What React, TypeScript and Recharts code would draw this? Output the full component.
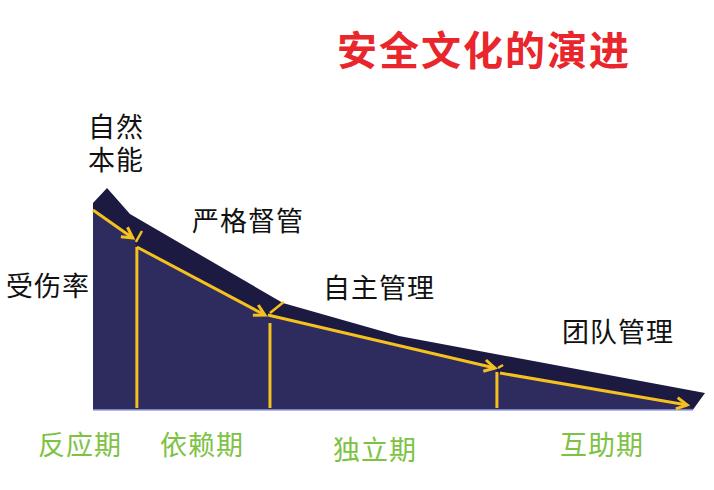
import React from "react";
import { Area, ComposedChart, Line, XAxis, YAxis } from "recharts";

type Pt = { x: number; y: number };

// outline of the dark top band (time vs. injury rate, arbitrary units)
const bandTop: Pt[] = [
  { x: 0, y: 41.4 },
  { x: 2.75, y: 44.4 },
  { x: 7.25, y: 39.2 },
  { x: 37.25, y: 21.4 },
  { x: 60, y: 14.8 },
  { x: 120, y: 3.4 },
  { x: 117.6, y: 0 },
];

// lighter body under the yellow path
const bodyTop: Pt[] = [
  { x: 0, y: 40 },
  { x: 8, y: 34.4 },
  { x: 8.6, y: 32.6 },
  { x: 33.9, y: 19 },
  { x: 34.7, y: 19 },
  { x: 79, y: 8.4 },
  { x: 79.4, y: 7.4 },
  { x: 117.6, y: 0.4 },
];

const arrowSegments: Pt[][] = [
  [{ x: 0, y: 40 }, { x: 7.8, y: 34.4 }],
  [{ x: 8.6, y: 32.6 }, { x: 33.7, y: 19 }],
  [{ x: 34.3, y: 19 }, { x: 78.8, y: 8.4 }],
  [{ x: 79.8, y: 7.4 }, { x: 116.5, y: 1 }],
];

const stageTicks: Pt[][] = [
  [{ x: 9.6, y: 35.8 }, { x: 8.4, y: 33.6 }],
  [{ x: 37.4, y: 21.6 }, { x: 34.7, y: 19.4 }],
  [{ x: 80.4, y: 9 }, { x: 79.4, y: 8.4 }],
];

const dividers: Pt[][] = [
  [{ x: 8.6, y: 32.6 }, { x: 8.6, y: 0.4 }],
  [{ x: 34.7, y: 17.4 }, { x: 34.7, y: 0.4 }],
  [{ x: 79.2, y: 7.6 }, { x: 79.2, y: 0.4 }],
];

const baseLine: Pt[] = [
  { x: 0, y: 0 },
  { x: 117.6, y: 0 },
];

const title = "安全文化的演进";
const stageNames = ["反应期", "依赖期", "独立期", "互助期"];
const modeNames = ["严格督管", "自主管理", "团队管理"];

const FONT = '"Noto Sans CJK SC", "Noto Sans", sans-serif';
const YELLOW = "#f5c11f";

const stageLabelPos = [
  { left: 38, top: 443 },
  { left: 160, top: 443 },
  { left: 333, top: 448 },
  { left: 560, top: 443 },
];
const modeLabelPos = [
  { left: 192, top: 219 },
  { left: 323, top: 286 },
  { left: 562, top: 330 },
];

const ArrowDot = (props: any) => {
  const { cx, cy, index, points } = props;
  if (!points || index !== points.length - 1 || index < 1) {
    return <g key={`d-${index}`} />;
  }
  const prev = points[index - 1];
  const a = Math.atan2(cy - prev.y, cx - prev.x);
  const len = 12;
  const s = 0.5;
  const x1 = cx - len * Math.cos(a - s);
  const y1 = cy - len * Math.sin(a - s);
  const x2 = cx - len * Math.cos(a + s);
  const y2 = cy - len * Math.sin(a + s);
  return (
    <path
      key={`d-${index}`}
      d={`M${x1},${y1}L${cx},${cy}L${x2},${y2}`}
      stroke={YELLOW}
      strokeWidth={3}
      fill="none"
      strokeLinejoin="miter"
    />
  );
};

const Text = ({
  children,
  left,
  top,
  size = 27,
  color = "#111",
  weight = 400,
  spacing = 1,
  lines = 1,
  lineH,
}: any) => {
  const lh = lineH ?? size;
  return (
    <div
      style={{
        position: "absolute",
        left,
        top: top - size / 2,
        fontSize: size,
        lineHeight: `${lh}px`,
        height: lh * lines,
        color,
        fontWeight: weight,
        letterSpacing: spacing,
        fontFamily: FONT,
        whiteSpace: "pre",
      }}
    >
      {children}
    </div>
  );
};

export default function App() {
  return (
    <div
      style={{
        position: "absolute",
        left: 0,
        top: 0,
        width: 714,
        height: 490,
        background: "#fff",
        fontFamily: FONT,
      }}
    >
      <ComposedChart
        width={714}
        height={490}
        margin={{ top: 110, right: 9, bottom: 80, left: 93 }}
      >
        <XAxis type="number" dataKey="x" domain={[0, 120]} hide />
        <YAxis type="number" domain={[0, 60]} hide />
        <Area
          data={bandTop}
          dataKey="y"
          type="linear"
          fill="#1d1a42"
          fillOpacity={1}
          stroke="none"
          isAnimationActive={false}
        />
        <Area
          data={bodyTop}
          dataKey="y"
          type="linear"
          fill="#2e2b5e"
          fillOpacity={1}
          stroke="none"
          isAnimationActive={false}
        />
        <Line
          data={baseLine}
          dataKey="y"
          type="linear"
          stroke="#9aa2e0"
          strokeWidth={1.5}
          dot={false}
          activeDot={false}
          isAnimationActive={false}
        />
        {dividers.map((seg, i) => (
          <Line
            key={`v${i}`}
            data={seg}
            dataKey="y"
            type="linear"
            stroke={YELLOW}
            strokeWidth={3}
            dot={false}
            activeDot={false}
            isAnimationActive={false}
          />
        ))}
        {stageTicks.map((seg, i) => (
          <Line
            key={`t${i}`}
            data={seg}
            dataKey="y"
            type="linear"
            stroke={YELLOW}
            strokeWidth={2.5}
            dot={false}
            activeDot={false}
            isAnimationActive={false}
          />
        ))}
        {arrowSegments.map((seg, i) => (
          <Line
            key={`a${i}`}
            data={seg}
            dataKey="y"
            type="linear"
            stroke={YELLOW}
            strokeWidth={3}
            dot={ArrowDot}
            activeDot={false}
            isAnimationActive={false}
          />
        ))}
      </ComposedChart>

      <Text left={337} top={48} size={40} color="#e8262b" weight={700} spacing={2}>
        {title}
      </Text>
      <Text left={88} top={122} lines={2} lineH={33}>
        {"自然\n本能"}
      </Text>
      <Text left={6} top={284}>受伤率</Text>
      {modeNames.map((m, i) => (
        <Text key={m} left={modeLabelPos[i].left} top={modeLabelPos[i].top}>
          {m}
        </Text>
      ))}
      {stageNames.map((s, i) => (
        <Text
          key={s}
          left={stageLabelPos[i].left}
          top={stageLabelPos[i].top}
          color="#7dc243"
        >
          {s}
        </Text>
      ))}
    </div>
  );
}
